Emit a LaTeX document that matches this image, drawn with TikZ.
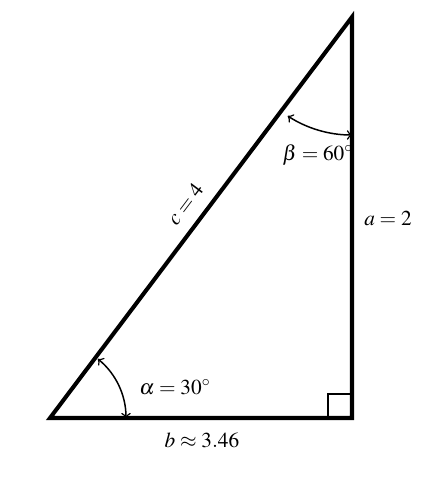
\documentclass[tikz,border=0pt]{standalone}
\usepackage{amssymb}
\usepackage{amsmath}
\usepackage{mathptmx}
\usepackage{tikz}
\usetikzlibrary{calc}
\tikzset{side/.style={line width=1.9pt},
  anglearc/.style={line width=0.7pt,<->,>=to}}

\begin{document}
\begin{tikzpicture}[x=0.0165cm,y=-0.0165cm]
    \useasboundingbox (0,0) rectangle (443,477);
    \coordinate (ptA) at (50,418);
    \coordinate (ptC) at (352,418);
    \coordinate (ptB) at (352,17);
    \draw[side,line join=miter] (ptA) -- (ptC) -- (ptB) -- cycle;
    \draw[line width=0.7pt] (328,418) -- (328,394) -- (352,394);
    \draw[anglearc] ($(ptA)+(76,0)$) arc[start angle=0,end angle=-51,radius=76];
    \draw[anglearc] ($(ptB)+(0,118)$) arc[start angle=90,end angle=123,radius=118];
    \node (labA) at (388,218) {$a=2$};
    \node (labB) at (202,440) {$b\approx 3.46$};
    \node[rotate=53] (labC) at (185,204) {$c=4$};
    \node (labAlpha) at (175,387) {$\alpha=30^\circ$};
    \node (labBeta) at (318,155) {$\beta=60^\circ$};
  \end{tikzpicture}
\end{document}
